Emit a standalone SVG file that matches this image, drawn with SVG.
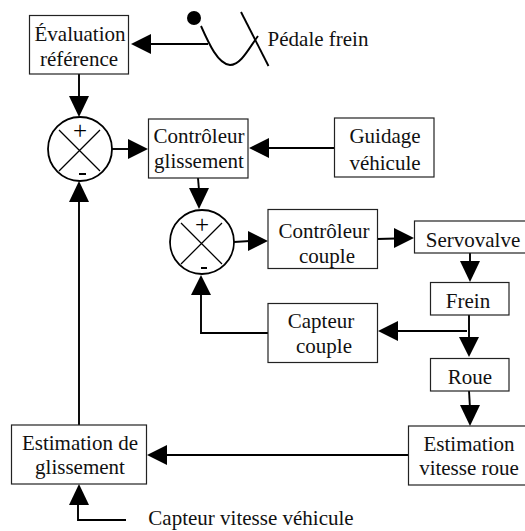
<svg xmlns="http://www.w3.org/2000/svg" width="525" height="531" viewBox="0 0 525 531">
<style>
.b{fill:#fff;stroke:#222;stroke-width:1.2}
.c{fill:#fff;stroke:#000;stroke-width:1.8}
.x{fill:none;stroke:#000;stroke-width:1.3}
.t{font-family:"Liberation Serif","Times New Roman",serif;font-size:21px;fill:#111;text-anchor:middle}
.p{font-family:"Liberation Serif","Times New Roman",serif;font-size:25px;fill:#000;text-anchor:middle}
.l{fill:none;stroke:#000;stroke-width:1.9}
.a{fill:#000;stroke:none}
</style>
<rect width="525" height="531" fill="#fff"/>
<g id="connectors">
<path class="l" d="M208 44H148"/><polygon class="a" points="131,44 151,34 151,54"/>
<path class="l" d="M79 74V98"/><polygon class="a" points="79,117 69,96 89,96"/>
<path class="l" d="M112 149H130"/><polygon class="a" points="148,149 128,139 128,159"/>
<path class="l" d="M334 148H268"/><polygon class="a" points="249,148 269,138 269,158"/>
<path class="l" d="M198 178L199 190"/><polygon class="a" points="199,209 189,188 209,188"/>
<path class="l" d="M234 242L250 241"/><polygon class="a" points="268,241 248,231 248,251"/>
<path class="l" d="M377 239L396 238.500"/><polygon class="a" points="414,238 394,228 394,248"/>
<path class="l" d="M470 253V263"/><polygon class="a" points="470,282 460,261 480,261"/>
<path class="l" d="M469 315V340"/><polygon class="a" points="469,357 459,337 479,337"/>
<path class="l" d="M467 331H396"/><polygon class="a" points="378,331 398,321 398,341"/>
<path class="l" d="M469 391L470 408"/><polygon class="a" points="470,426 460,405 480,405"/>
<path class="l" d="M408 455H165"/><polygon class="a" points="147,455 167,445 167,465"/>
<path class="l" d="M79 425V200"/><polygon class="a" points="79,181 69,202 89,202"/>
<path class="l" d="M268 333H201V290"/><polygon class="a" points="201,275 191,295 211,295"/>
<path class="l" d="M126 520H78V500"/><polygon class="a" points="79,484 69,505 89,505"/>
</g>
<g id="pedale">
<circle class="a" cx="194" cy="18" r="7"/>
<path class="l" d="M201 26C209 44 218 64 230 65C241 65 249 48 258 36"/>
<path class="l" d="M241 12L268.500 66"/>
<text class="t" x="318" y="46">Pédale frein</text>
</g>
<g id="evaluation"><rect class="b" x="29.500" y="15.500" width="99" height="58.500"/><text class="t" x="80" y="41">Évaluation</text><text class="t" x="79" y="66">référence</text></g>
<g id="somme1"><circle class="c" cx="80" cy="149" r="32"/><path class="x" d="M59 130L100 171M100 130L59 171"/><text class="p" x="80" y="138.500">+</text><rect class="a" x="79" y="173" width="7" height="2"/></g>
<g id="glissement"><rect class="b" x="148.500" y="119" width="99.500" height="59"/><text class="t" x="199" y="143">Contrôleur</text><text class="t" x="199" y="168">glissement</text></g>
<g id="guidage"><rect class="b" x="334.500" y="118" width="99.500" height="59"/><text class="t" x="385" y="143">Guidage</text><text class="t" x="385" y="170">véhicule</text></g>
<g id="somme2"><circle class="c" cx="202" cy="242" r="32"/><path class="x" d="M181 223L222 264M222 223L181 264"/><text class="p" x="202" y="232.500">+</text><rect class="a" x="201" y="267" width="6" height="2"/></g>
<g id="couple"><rect class="b" x="268" y="209.500" width="109.500" height="59"/><text class="t" x="324" y="238">Contrôleur</text><text class="t" x="327" y="263">couple</text></g>
<g id="servovalve"><rect class="b" x="414.500" y="221" width="115" height="32"/><text class="t" x="473" y="247">Servovalve</text></g>
<g id="frein"><rect class="b" x="430.500" y="282.500" width="78.500" height="32.500"/><text class="t" x="468" y="308">Frein</text></g>
<g id="capteur"><rect class="b" x="268" y="303.500" width="109.500" height="59"/><text class="t" x="321" y="328">Capteur</text><text class="t" x="324" y="353">couple</text></g>
<g id="roue"><rect class="b" x="430.500" y="358.500" width="78.500" height="32.500"/><text class="t" x="470" y="384">Roue</text></g>
<g id="vitesse"><rect class="b" x="408.500" y="426" width="120" height="59"/><text class="t" x="469" y="451">Estimation</text><text class="t" x="469" y="475">vitesse roue</text></g>
<g id="estimation"><rect class="b" x="11.500" y="425" width="135" height="59"/><text class="t" x="80" y="450">Estimation de</text><text class="t" x="80" y="474">glissement</text></g>
<text class="t" x="251" y="525">Capteur vitesse véhicule</text>
</svg>
